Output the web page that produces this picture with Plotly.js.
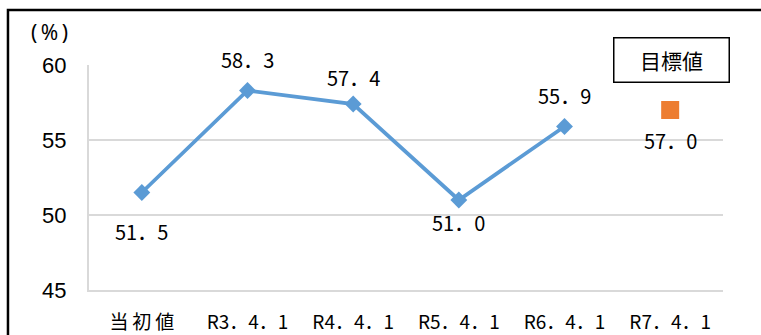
<!DOCTYPE html>
<html>
<head>
<meta charset="utf-8">
<script src="https://cdn.plot.ly/plotly-3.0.1.min.js"></script>
<style>html,body{margin:0;padding:0;background:#fff;}#chart{width:761px;height:335px;}</style>
</head>
<body>
<div id="chart"></div>
<script>
// Data
const categories = ["当\u2009初\u2009値", "R3．4．1", "R4．4．1", "R5．4．1", "R6．4．1", "R7．4．1"];
const actualX = [0, 1, 2, 3, 4];
const actualValues = [51.5, 58.3, 57.4, 51.0, 55.9];
const targetX = [5];
const targetValues = [57.0];
const labelTexts = ["51．5", "58．3", "57．4", "51．0", "55．9"];
const targetLabelTexts = ["57．0"];
const yTicks = [45, 50, 55, 60];

// Styles
const labelShifts = [-39, 31, 27, -22, 31];
const targetLabelShifts = [-30];
const jpFont = "'Noto Sans CJK JP', 'Noto Sans', sans-serif";

const traces = [
  {
    x: actualX, y: actualValues, type: 'scatter', mode: 'lines+markers',
    line: {color: '#5B9BD5', width: 3.8},
    marker: {symbol: 'diamond', size: 13, color: '#5B9BD5'},
    hoverinfo: 'none', cliponaxis: false
  },
  {
    x: targetX, y: targetValues, type: 'scatter', mode: 'markers',
    marker: {symbol: 'square', size: 18, color: '#ED7D31'},
    hoverinfo: 'none', cliponaxis: false
  }
];

const annotations = [];
actualX.forEach((x, i) => {
  annotations.push({x: x, y: actualValues[i], xref: 'x', yref: 'y', text: labelTexts[i],
    xanchor: 'center', yanchor: 'middle',
    showarrow: false, yshift: labelShifts[i], font: {family: jpFont, size: 20, color: '#000'}});
});
targetX.forEach((x, i) => {
  annotations.push({x: x, y: targetValues[i], xref: 'x', yref: 'y', text: targetLabelTexts[i],
    xanchor: 'center', yanchor: 'middle',
    showarrow: false, yshift: targetLabelShifts[i], font: {family: jpFont, size: 20, color: '#000'}});
});
annotations.push({xref: 'paper', yref: 'paper', x: -0.0625, y: 1.1467, text: '(\u2009%\u2009)', showarrow: false,
  xanchor: 'center', yanchor: 'middle',
  font: {family: "'Noto Sans', sans-serif", size: 21, color: '#000'}});
annotations.push({xref: 'paper', yref: 'paper', x: 0.918, y: 1.0244, text: '目標値', showarrow: false,
  xanchor: 'center', yanchor: 'middle',
  width: 112, height: 41, bordercolor: '#000', borderwidth: 1.5, bgcolor: '#fff',
  font: {family: jpFont, size: 21, color: '#000'}});

const layout = {
  width: 761, height: 335,
  margin: {l: 89, r: 38, t: 65, b: 45, pad: 0},
  paper_bgcolor: '#fff', plot_bgcolor: '#fff',
  showlegend: false,
  xaxis: {
    tickvals: [0, 1, 2, 3, 4, 5], ticktext: categories, range: [-0.5, 5.5],
    showgrid: false, zeroline: false, showline: true, linecolor: '#d9d9d9', linewidth: 2,
    ticks: '', ticklabelstandoff: 14,
    tickfont: {family: jpFont, size: 19, color: '#000'}
  },
  yaxis: {
    range: [45, 60], tickvals: yTicks, showgrid: true, gridcolor: '#d9d9d9', gridwidth: 2,
    zeroline: false, showline: true, linecolor: '#d9d9d9', linewidth: 2,
    ticks: '', ticklabelstandoff: 16,
    tickfont: {family: "'Liberation Sans', Arial, sans-serif", size: 22, color: '#000'}
  },
  annotations: annotations,
  shapes: [
    {type: 'path', xref: 'paper', yref: 'paper',
     path: 'M -0.1278 -0.5 L -0.1278 1.2444 L 1.2 1.2444',
     line: {color: '#000', width: 2.5}}
  ]
};

Plotly.newPlot('chart', traces, layout, {staticPlot: true, displayModeBar: false});
</script>
</body>
</html>
